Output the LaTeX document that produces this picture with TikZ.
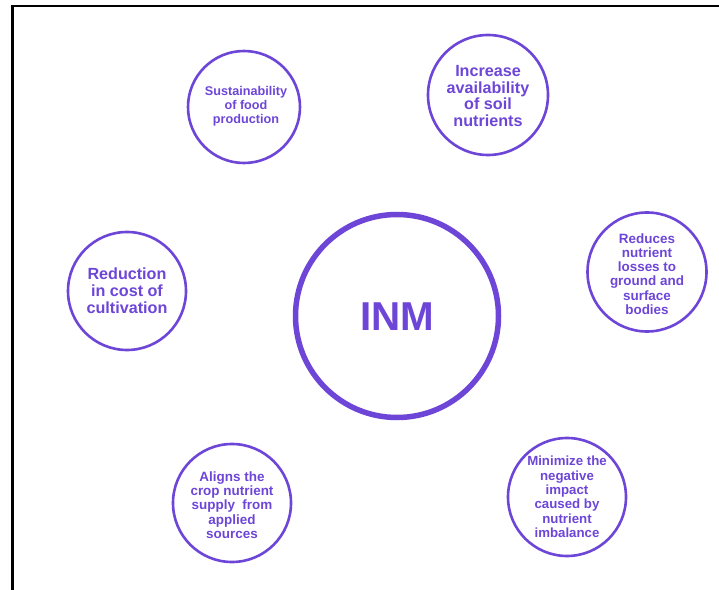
\documentclass[tikz,border=0pt]{standalone}
\usepackage{fontspec}
\setmainfont{Liberation Sans}
\definecolor{inmpurple}{HTML}{6D46D8}
\tikzset{
  bub/.style={circle,draw=inmpurple,line width=2.6bp,inner sep=0pt,fill=none},
  txt/.style={text=inmpurple,align=center,inner sep=0pt,font=\bfseries},
  frame/.style={draw=black,line width=2.6bp}
}
\begin{document}
\begin{tikzpicture}[x=1bp,y=-1bp]
\useasboundingbox (0,0) rectangle (719,590);
\fill[white] (0,0) rectangle (719,590);
\coordinate (fb) at (12.5,590);
\coordinate (fc) at (12.5,6);
\coordinate (fr) at (719,6);
\draw[frame] (fb) -- (fc) -- (fr);

\node[bub,line width=5.5bp,minimum size=203bp] (inm) at (397,316) {};
\node[txt,font=\bfseries\fontsize{40.5}{44}\selectfont] (inmt) at (397,317) {INM};

\node[bub,minimum size=112bp] (c1) at (244,107) {};
\node[txt,font=\bfseries\fontsize{12.7}{14}\selectfont] (t1) at (246,106) {Sustainability\\of food\\production};

\node[bub,minimum size=120bp] (c2) at (488,95) {};
\node[txt,font=\bfseries\fontsize{16.2}{17}\selectfont] (t2) at (488,96) {Increase\\availability\\of soil\\nutrients};

\node[bub,minimum size=119bp] (c3) at (647,272) {};
\node[txt,font=\bfseries\fontsize{13.5}{14.2}\selectfont] (t3) at (647,274) {Reduces\\nutrient\\losses to\\ground and\\surface\\bodies};

\node[bub,minimum size=118bp] (c4) at (127,291) {};
\node[txt,font=\bfseries\fontsize{16.2}{17}\selectfont] (t4) at (127,291) {Reduction\\in cost of\\cultivation};

\node[bub,minimum size=118bp] (c5) at (232,503) {};
\node[txt,font=\bfseries\fontsize{13.5}{14.3}\selectfont] (t5) at (232,505) {Aligns the\\crop nutrient\\supply\ \ from\\applied\\sources};

\node[bub,minimum size=118bp] (c6) at (567,497) {};
\node[txt,font=\bfseries\fontsize{13.3}{14.4}\selectfont] (t6) at (567,497) {Minimize the\\negative\\impact\\caused by\\nutrient\\imbalance};
\end{tikzpicture}
\end{document}
